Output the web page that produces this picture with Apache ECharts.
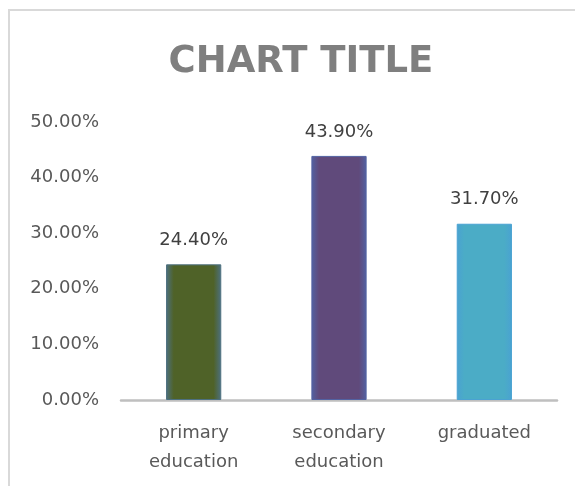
<!DOCTYPE html>
<html>
<head>
<meta charset="utf-8">
<script src="https://cdn.jsdelivr.net/npm/echarts@6/dist/echarts.min.js"></script>
<style>
  html, body { margin: 0; padding: 0; background: #ffffff; }
  #chart { width: 575px; height: 486px; }
</style>
</head>
<body>
<div id="chart"></div>
<script>
const categories = ['primary\neducation', 'secondary\neducation', 'graduated'];
const values = [24.4, 43.9, 31.7];
const barCenters = ['#4f6228', '#604a7b', '#4bacc6'];
const barEdges = ['#4d7080', '#5262a2', '#4aa2d2'];
const yTicks = [0, 10, 20, 30, 40, 50];

function barColor(i) {
  return {
    type: 'linear', x: 0, y: 0, x2: 1, y2: 0,
    colorStops: [
      { offset: 0, color: barEdges[i] },
      { offset: 0.14, color: barCenters[i] },
      { offset: 0.86, color: barCenters[i] },
      { offset: 1, color: barEdges[i] }
    ]
  };
}

const chart = echarts.init(document.getElementById('chart'), null, { renderer: 'canvas' });
chart.setOption({
  animation: false,
  backgroundColor: '#ffffff',
  title: {
    text: 'CHART TITLE',
    left: 296,
    textAlign: 'center',
    top: 39,
    textStyle: {
      fontFamily: 'DejaVu Sans',
      fontWeight: 'bold',
      fontSize: 37,
      color: '#7f7f7f'
    }
  },
  graphic: [{
    type: 'rect',
    shape: { x: 9, y: 10, width: 700, height: 700 },
    style: { fill: 'none', stroke: '#d9d9d9', lineWidth: 2 },
    silent: true
  }],
  grid: { left: 121, right: 18, top: 122, bottom: 86 },
  xAxis: {
    type: 'category',
    data: categories,
    axisLine: { show: true, lineStyle: { color: '#bfbfbf', width: 2.5 } },
    axisTick: { show: false },
    axisLabel: {
      margin: 19,
      fontFamily: 'DejaVu Sans',
      fontSize: 18,
      lineHeight: 29,
      color: '#595959'
    }
  },
  yAxis: {
    type: 'value',
    min: yTicks[0],
    max: yTicks[yTicks.length - 1],
    interval: 10,
    splitLine: { show: false },
    axisLine: { show: false },
    axisTick: { show: false },
    axisLabel: {
      margin: 22,
      fontFamily: 'DejaVu Sans',
      fontSize: 18,
      color: '#595959',
      formatter: v => v.toFixed(2) + '%'
    }
  },
  series: [{
    type: 'bar',
    barWidth: '38%',
    data: values.map((v, i) => ({
      value: v,
      itemStyle: { color: barColor(i), borderColor: barEdges[i], borderWidth: 1 }
    })),
    label: {
      show: true,
      position: 'top',
      distance: 15,
      fontFamily: 'DejaVu Sans',
      fontSize: 18,
      color: '#404040',
      formatter: p => p.value.toFixed(2) + '%'
    }
  }]
});
</script>
</body>
</html>
